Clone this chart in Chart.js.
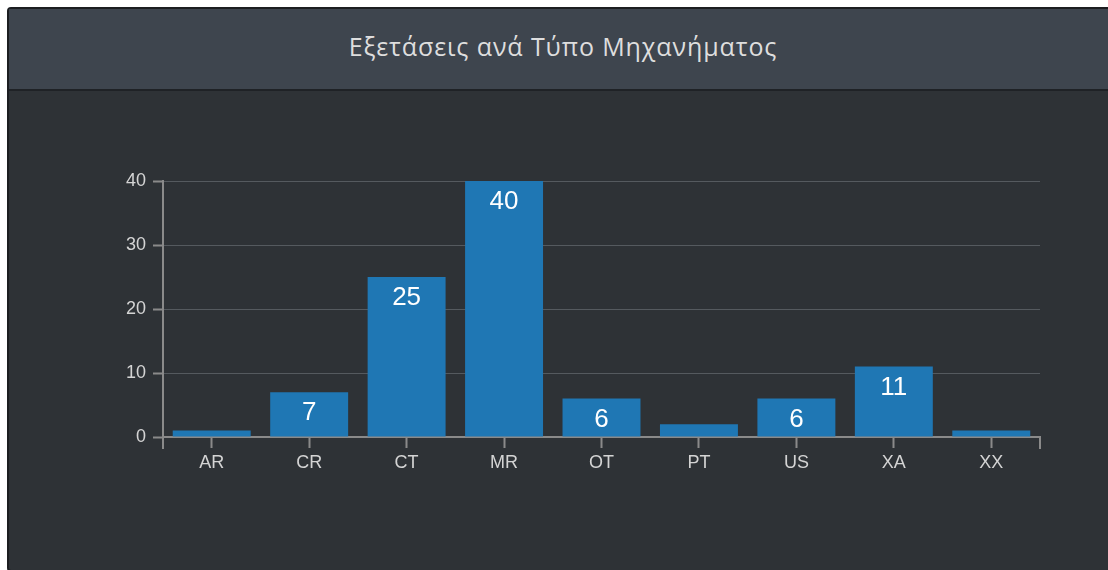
<!DOCTYPE html>
<html>
<head>
<meta charset="utf-8">
<script src="https://cdn.jsdelivr.net/npm/chart.js@4.4.1/dist/chart.umd.min.js"></script>
<style>
  html, body { margin: 0; padding: 0; background: #fff; width: 1108px; height: 570px; overflow: hidden; }
  #panel {
    position: absolute; left: 7px; top: 7px; width: 1120px; height: 561px;
    background: #2e3236; border: 2px solid #1c1e21; border-radius: 4px;
  }
  #header {
    height: 82px; background: #3e454e; border-bottom: 2px solid #1f2226;
    color: #dedede; font: 25px "Open Sans", "DejaVu Sans", sans-serif; letter-spacing: 0.9px;
    display: flex; align-items: center; justify-content: center;
    padding-right: 12px; box-sizing: border-box; padding-bottom: 6px;
  }
  #chartWrap { position: absolute; left: 0; top: 0; width: 1108px; height: 570px; }
</style>
</head>
<body>
<div id="panel"><div id="header">Εξετάσεις ανά Τύπο Μηχανήματος</div></div>
<div id="chartWrap"><canvas id="examsChart" width="1108" height="570"></canvas></div>
<script>
const categories = ['AR', 'CR', 'CT', 'MR', 'OT', 'PT', 'US', 'XA', 'XX'];
const examCounts = [1, 7, 25, 40, 6, 2, 6, 11, 1];
const yTicks = [0, 10, 20, 30, 40];

const axisColor = '#8a8a8a';
const textColor = '#d4d4d4';

// outer ticks at both ends of the x axis, like a d3 axis
const outerTicks = {
    id: 'outerTicks',
    afterDraw(chart) {
        const x = chart.scales.x;
        const ctx = chart.ctx;
        ctx.save();
        ctx.strokeStyle = axisColor;
        ctx.lineWidth = 2;
        ctx.beginPath();
        ctx.moveTo(x.left, x.top);
        ctx.lineTo(x.left, x.top + 12);
        ctx.moveTo(x.right, x.top);
        ctx.lineTo(x.right, x.top + 12);
        ctx.stroke();
        ctx.restore();
    }
};

// value labels inside the top of each bar
const barLabels = {
    id: 'barLabels',
    afterDatasetsDraw(chart) {
        const ctx = chart.ctx;
        const meta = chart.getDatasetMeta(0);
        ctx.save();
        ctx.fillStyle = '#ffffff';
        ctx.font = '26px "Liberation Sans", Arial, sans-serif';
        ctx.textAlign = 'center';
        ctx.textBaseline = 'middle';
        meta.data.forEach((bar, i) => {
            if (bar.base - bar.y < 30) return;
            ctx.fillText(String(examCounts[i]), bar.x, bar.y + 21);
        });
        ctx.restore();
    }
};

const canvas = document.getElementById('examsChart');
new Chart(canvas, {
    type: 'bar',
    data: {
        labels: categories,
        datasets: [{
            data: examCounts,
            backgroundColor: '#1f77b4',
            borderWidth: 0,
            categoryPercentage: 0.8,
            barPercentage: 1.0
        }]
    },
    options: {
        responsive: false,
        animation: false,
        layout: { padding: { top: 181, right: 68, left: 0, bottom: 0 } },
        plugins: {
            legend: { display: false },
            tooltip: { enabled: false },
            title: { display: false }
        },
        scales: {
            x: {
                offset: true,
                afterFit(scale) { scale.height = 133; },
                grid: {
                    offset: false,
                    drawOnChartArea: false,
                    drawTicks: true,
                    tickLength: 11,
                    tickColor: axisColor,
                    tickWidth: 2
                },
                border: { display: true, color: axisColor, width: 2 },
                ticks: {
                    color: textColor,
                    padding: 4,
                    font: { family: '"Liberation Sans", Arial, sans-serif', size: 18 }
                }
            },
            y: {
                min: 0,
                max: 40,
                afterFit(scale) { scale.width = 163; },
                afterBuildTicks(scale) { scale.ticks = yTicks.map(v => ({ value: v })); },
                grid: {
                    color: '#555a5f',
                    lineWidth: 1,
                    drawTicks: true,
                    tickLength: 10,
                    tickColor: axisColor,
                    tickWidth: 2
                },
                border: { display: true, color: axisColor, width: 2 },
                ticks: {
                    color: textColor,
                    padding: 7,
                    font: { family: '"Liberation Sans", Arial, sans-serif', size: 18 }
                }
            }
        }
    },
    plugins: [outerTicks, barLabels]
});
</script>
</body>
</html>
